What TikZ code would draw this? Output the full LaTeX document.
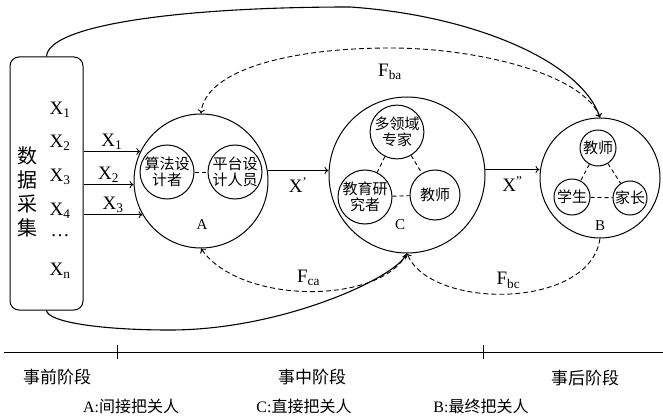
\documentclass[tikz,border=0pt]{standalone}
\usepackage{fontspec}
\setmainfont{Liberation Serif}
\newfontfamily\cjk{Noto Sans CJK SC}
\usetikzlibrary{positioning,arrows.meta,calc}
\newcommand{\zh}[1]{{\cjk #1}}

\begin{document}
\begin{tikzpicture}[x=1pt, y=-1pt,
    outer/.style={circle, draw, line width=1pt, inner sep=0pt},
    inner/.style={circle, draw, line width=1pt, inner sep=0pt, align=center, font=\cjk\fontsize{15}{16}\selectfont},
    tie/.style={line width=0.9pt, dash pattern=on 4pt off 3pt},
    arrow/.style={-{To[length=4pt,width=7pt]}, line width=0.9pt},
    feedback/.style={arrow, dash pattern=on 5pt off 3pt},
    lab/.style={font=\fontsize{19}{21}\selectfont},
    tag/.style={font=\fontsize{15}{17}\selectfont},
    stage/.style={font=\cjk\fontsize{17}{19}\selectfont},
]
\useasboundingbox (0,0) rectangle (663,417);

% data collection box with its variables
\node[draw, rounded corners=9pt, line width=1pt, minimum width=73pt, minimum height=253pt] (data) at (46.5,183.5) {};
\node[font=\cjk\fontsize{20}{24}\selectfont, align=center] (datatxt) at (27,192) {数\\据\\采\\集};
\node[lab] (v1) at (60,110) {X\textsubscript{1}};
\node[lab] (v2) at (60,143) {X\textsubscript{2}};
\node[lab] (v3) at (60,177) {X\textsubscript{3}};
\node[lab] (v4) at (60,211) {X\textsubscript{4}};
\node[lab] (vd) at (60,236) {\dots};
\node[lab] (vn) at (60,271) {X\textsubscript{n}};

% A: indirect gatekeepers
\node[outer, minimum size=134pt] (A) at (201,181) {};
\node[inner, minimum size=54pt] (algo) at (167,172) {算法设\\计者};
\node[inner, minimum size=54pt] (plat) at (235,172) {平台设\\计人员};
\node[tag] (Alab) at (202,225) {A};
\draw[tie] (algo) -- (plat);

% C: direct gatekeepers
\node[outer, minimum size=156pt] (C) at (407,175) {};
\node[inner, minimum size=50pt] (expert) at (397,132) {多领域\\专家};
\node[inner, minimum size=54pt] (edu) at (365,197) {教育研\\究者};
\node[inner, minimum size=50pt] (cteach) at (435,195) {教师};
\node[tag] (Clab) at (400,225) {C};
\draw[tie] (expert) -- (edu);
\draw[tie] (expert) -- (cteach);
\draw[tie] (edu) -- (cteach);

% B: final gatekeepers
\node[outer, minimum size=120pt] (B) at (600,178) {};
\node[inner, minimum size=36pt] (bteach) at (598,148) {教师};
\node[inner, minimum size=36pt] (student) at (572,197) {学生};
\node[inner, minimum size=34pt] (parent) at (630,198) {家长};
\node[tag] (Blab) at (600,226) {B};
\draw[tie] (bteach) -- (student);
\draw[tie] (bteach) -- (parent);
\draw[tie] (student) -- (parent);

% forward flow
\draw[arrow] (data.east |- A.154) -- node[lab, midway, above=-2pt] {X\textsubscript{1}} (A.154);
\draw[arrow] (data.east |- A.183) -- node[lab, midway, above=-2pt] {X\textsubscript{2}} (A.183);
\draw[arrow] (data.east |- A.210) -- node[lab, midway, above=-2pt] {X\textsubscript{3}} (A.210);
\draw[arrow] (A.9) -- node[lab, midway, below=3pt] {X\textsuperscript{\textquoteright}} (A.9 -| C.west);
\draw[arrow] (C.4) -- node[lab, midway, below=3pt] {X\textsuperscript{\textquotedblright}} (C.4 -| B.west);

% direct links from the data box
\draw[arrow, line width=1.1pt] (data.north) .. controls (48,25) and (180,7) .. (350,7)
    .. controls (470,15) and (580,60) .. (B.north);
\draw[-{Stealth[length=6pt,width=5pt]}, line width=1.1pt] (data.south) .. controls (48,322) and (100,330) .. (170,330)
    .. controls (280,330) and (390,280) .. (C.south);

% feedback
\draw[feedback] (B.north) .. controls (585,75) and (480,48) .. (390,48)
    .. controls (290,48) and (205,70) .. node[lab, pos=0, below=12pt] {F\textsubscript{ba}} (A.north);
\draw[feedback] (C.south) .. controls (380,305) and (240,305) .. node[lab, midway, above=2pt] {F\textsubscript{ca}} (A.south);
\draw[feedback] (B.south) .. controls (590,310) and (430,310) .. node[lab, midway, above=2pt] {F\textsubscript{bc}} (C.south);

% time line
\draw[line width=1pt] (4,352) -- (663,352);
\draw[line width=1pt] (117,345) -- (117,359);
\draw[line width=1pt] (483,345) -- (483,359);
\node[stage] (pre) at (57,377) {事前阶段};
\node[stage] (mid) at (312,377) {事中阶段};
\node[stage] (post) at (585,378) {事后阶段};
\node[stage, font=\cjk\fontsize{16}{18}\selectfont] (roleA) at (131,406) {\rmfamily A:\zh{间接把关人}};
\node[stage, font=\cjk\fontsize{16}{18}\selectfont] (roleC) at (304,406) {\rmfamily C:\zh{直接把关人}};
\node[stage, font=\cjk\fontsize{16}{18}\selectfont] (roleB) at (481,406) {\rmfamily B:\zh{最终把关人}};
\end{tikzpicture}
\end{document}
